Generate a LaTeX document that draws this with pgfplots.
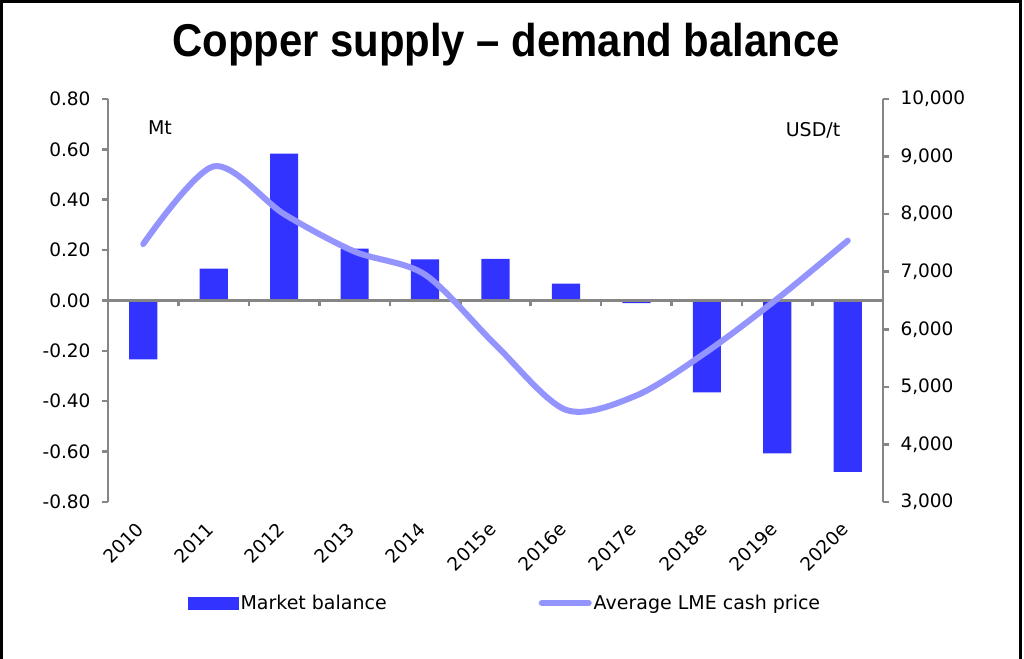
\documentclass[border=0pt]{standalone}
\usepackage{pgfplots}
\pgfplotsset{compat=1.18}
\usepackage{fontspec}
\setmainfont{DejaVu Sans}
\newfontfamily\titlefont{Liberation Sans}
\definecolor{barblue}{HTML}{3333FF}
\definecolor{linepurple}{HTML}{9494FF}
\definecolor{axgray}{HTML}{868686}
\newcommand{\tickfont}{\fontsize{18.5}{21}\selectfont}
\newcommand{\legfont}{\fontsize{19}{22}\selectfont}
\pgfplotsset{
  barlegend/.style={legend image code/.code={\fill[barblue] (0pt,-6pt) rectangle (50pt,6pt);}},
  linelegend/.style={legend image code/.code={\draw[linepurple, line width=6pt, line cap=round] (3pt,0pt) -- (50pt,0pt);}},
}
\begin{document}
\begin{tikzpicture}[x=1pt,y=1pt]
\useasboundingbox (0,0) rectangle (1024,658);
\draw[line width=3pt] (1.5,-2) -- (1.5,656.5) -- (1020.5,656.5) -- (1020.5,-2);
\node[font=\titlefont\fontsize{46}{54}\selectfont\bfseries, anchor=base] at (506,601) {\scalebox{0.91}[1]{Copper supply – demand balance}};

% left axis with bars
\begin{axis}[
  at={(108pt,156pt)}, anchor=south west, scale only axis,
  width=775pt, height=403pt,
  xmin=-0.5, xmax=10.5, ymin=-0.8, ymax=0.8,
  axis y line*=left, axis x line*=bottom,
  x axis line style={draw=none},
  xtick={0,1,...,10},
  xticklabels={2010,2011,2012,2013,2014,2015e,2016e,2017e,2018e,2019e,2020e},
  xticklabel style={font=\tickfont, xshift=-3pt, rotate=45, anchor=east, inner sep=0pt},
  xticklabel shift=18pt,
  major x tick style={draw=none},
  ytick={-0.8,-0.6,...,0.81},
  yticklabel style={font=\tickfont},
  /pgf/number format/fixed, /pgf/number format/fixed zerofill,
  /pgf/number format/precision=2, /pgf/number format/assume math mode=true,
  y axis line style={axgray, line width=2.5pt},
  major y tick style={axgray, line width=2.5pt},
  major tick length=6pt,
  tick align=outside,
  yticklabel shift=8pt,
  clip=false,
]
\addplot[ybar, bar width=0.4, fill=barblue, draw=none, bar shift=0pt] coordinates {
(0,-0.234) (1,0.127) (2,0.583) (3,0.206) (4,0.163) (5,0.165) (6,0.067) (7,-0.01) (8,-0.365) (9,-0.607) (10,-0.68)
};
\end{axis}

% zero line with ticks
\begin{axis}[
  at={(108pt,156pt)}, anchor=south west, scale only axis,
  width=775pt, height=403pt,
  xmin=-0.5, xmax=10.5, ymin=-0.8, ymax=0.8,
  axis x line=middle, axis y line=none,
  x axis line style={-, axgray, line width=2.5pt},
  xtick={0.5,1.5,...,10.5}, xticklabels={},
  major x tick style={axgray, line width=2.5pt},
  major tick length=6pt,
  xtick align=outside,
]
\end{axis}

% right axis with line
\begin{axis}[
  at={(108pt,156pt)}, anchor=south west, scale only axis,
  width=775pt, height=403pt,
  xmin=-0.5, xmax=10.5, ymin=3000, ymax=10000,
  axis y line*=right, axis x line=none,
  ytick={3000,4000,...,10000},
  scaled y ticks=false,
  yticklabel style={font=\tickfont},
  /pgf/number format/1000 sep={,}, /pgf/number format/assume math mode=true,
  y axis line style={axgray, line width=2.5pt},
  major y tick style={axgray, line width=2.5pt},
  major tick length=6pt,
  tick align=outside,
  yticklabel shift=8pt,
  clip=false,
  legend columns=2,
  legend style={at={(0.1032,-0.2506)}, anchor=west, draw=none, fill=none,
    font=\legfont, inner sep=0pt, /tikz/column 2/.style={column sep=150pt}},
  legend cell align=left,
]
\addlegendimage{barlegend}
\addlegendentry{Market balance}
\addplot[linepurple, line width=6pt, smooth, line cap=round, linelegend] coordinates {
(0,7480) (1,8830) (2,8000) (3,7350) (4,6950) (5,5730) (6,4600) (7,4850) (8,5610) (9,6530) (10,7540)
};
\addlegendentry{Average LME cash price}
\end{axis}

\node[font=\legfont] at (160,530) {Mt};
\node[font=\legfont] at (813,528) {USD/t};
\end{tikzpicture}
\end{document}
